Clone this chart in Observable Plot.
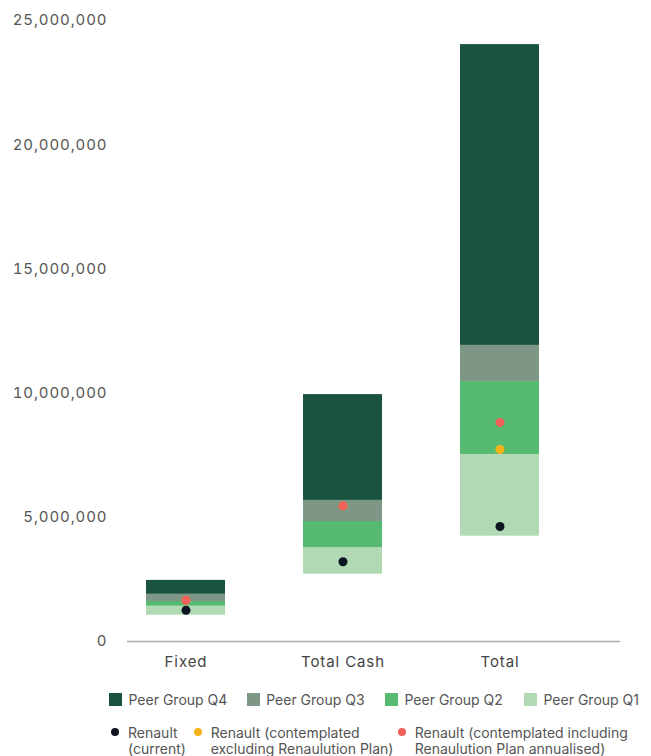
<!DOCTYPE html>
<html>
<head>
<meta charset="utf-8">
<script src="https://cdn.jsdelivr.net/npm/d3@7"></script>
<script src="https://cdn.jsdelivr.net/npm/@observablehq/plot@0.6"></script>
<style>
  html, body { margin: 0; padding: 0; background: #fff; }
  #wrap { position: relative; width: 651px; height: 756px; font-family: Inter, "Noto Sans", sans-serif; }
  #chart svg { display: block; }
  .legend-item { position: absolute; display: flex; align-items: flex-start; color: #555; font-size: 14px; letter-spacing: 0px; white-space: nowrap; }
  .sw { width: 13px; height: 13px; flex: none; margin-right: 6.5px; }
  .dot { width: 8px; height: 8px; border-radius: 50%; flex: none; margin-right: 9px; margin-top: 3px; }
  .two { line-height: 16px; }
</style>
</head>
<body>
<div id="wrap">
  <div id="chart"></div>
  <div id="legend"></div>
</div>
<script>
// ---- data ----
const categories = ["Fixed", "Total Cash", "Total"];
const peerMin    = [1060000, 2710000, 4240000];
const peerQ1Top  = [1420000, 3780000, 7530000];
const peerQ2Top  = [1610000, 4830000, 10470000];
const peerQ3Top  = [1900000, 5680000, 11920000];
const peerMax    = [2460000, 9940000, 24030000];
const renaultCurrent = [1260000, 3210000, 4630000];
const renaultExcl    = [1660000, 5460000, 7730000];
const renaultIncl    = [1660000, 5460000, 8820000];
const quartileNames  = ["Peer Group Q1", "Peer Group Q2", "Peer Group Q3", "Peer Group Q4"];
const quartileColors = ["#b0d9b4", "#56bb70", "#7d9686", "#1a5441"];
const seriesNames  = ["Renault (current)", "Renault (contemplated excluding Renaulution Plan)", "Renault (contemplated including Renaulution Plan annualised)"];
const seriesColors = ["#0d1520", "#f5b31b", "#f0605d"];
const yTicks = [0, 5000000, 10000000, 15000000, 20000000, 25000000];

// ---- build tables ----
const segments = [];
categories.forEach((c, i) => {
  const b = [peerMin[i], peerQ1Top[i], peerQ2Top[i], peerQ3Top[i], peerMax[i]];
  quartileNames.forEach((q, j) => segments.push({category: c, quartile: q, y1: b[j], y2: b[j + 1]}));
});
const points = [];
[renaultCurrent, renaultExcl, renaultIncl].forEach((arr, s) => {
  categories.forEach((c, i) => points.push({category: c, series: seriesNames[s], value: arr[i]}));
});
const color = d3.scaleOrdinal(quartileNames.concat(seriesNames), quartileColors.concat(seriesColors));

const chart = Plot.plot({
  width: 651,
  height: 680,
  marginLeft: 127,
  marginRight: 31,
  marginTop: 20,
  marginBottom: 39,
  style: {fontFamily: "Inter, 'Noto Sans', sans-serif", fontSize: "15px", color: "#555", letterSpacing: "0.9px", background: "#fff"},
  x: {domain: categories, paddingInner: 0.5, paddingOuter: 0.313, align: 0.19, label: null, tickSize: 0, tickPadding: 15},
  y: {domain: [0, 25000000], ticks: yTicks, tickFormat: d3.format(","), tickSize: 0, tickPadding: 20, label: null},
  marks: [
    Plot.barY(segments, {x: "category", y1: "y1", y2: "y2", fill: d => color(d.quartile)}),
    Plot.ruleY([0], {stroke: "#aaaaaa", strokeWidth: 1.5}),
    Plot.dot(points, {x: "category", y: "value", fill: d => color(d.series), r: 4.5, stroke: "none"})
  ]
});
document.getElementById("chart").appendChild(chart);
chart.querySelectorAll("g[aria-label='x-axis tick label'] text").forEach(t => t.setAttribute("fill", "#444"));

// ---- legend ----
const legend = document.getElementById("legend");
const swLeft = [109, 246.7, 385, 524];
const qOrder = ["Peer Group Q4", "Peer Group Q3", "Peer Group Q2", "Peer Group Q1"];
qOrder.forEach((q, i) => {
  const it = document.createElement("div");
  it.className = "legend-item";
  it.style.left = swLeft[i] + "px";
  it.style.top = "691px";
  it.style.alignItems = "center";
  it.innerHTML = `<span class="sw" style="background:${color(q)}"></span><span>${q}</span>`;
  legend.appendChild(it);
});
const dotLeft = [111, 193.7, 397.7];
const labels = [["Renault", "(current)"], ["Renault (contemplated", "excluding Renaulution Plan)"], ["Renault (contemplated including", "Renaulution Plan annualised)"]];
seriesNames.forEach((s, i) => {
  const it = document.createElement("div");
  it.className = "legend-item two";
  it.style.left = dotLeft[i] + "px";
  it.style.top = "724.5px";
  it.innerHTML = `<span class="dot" style="background:${color(s)}"></span><span>${labels[i][0]}<br>${labels[i][1]}</span>`;
  legend.appendChild(it);
});
</script>
</body>
</html>
